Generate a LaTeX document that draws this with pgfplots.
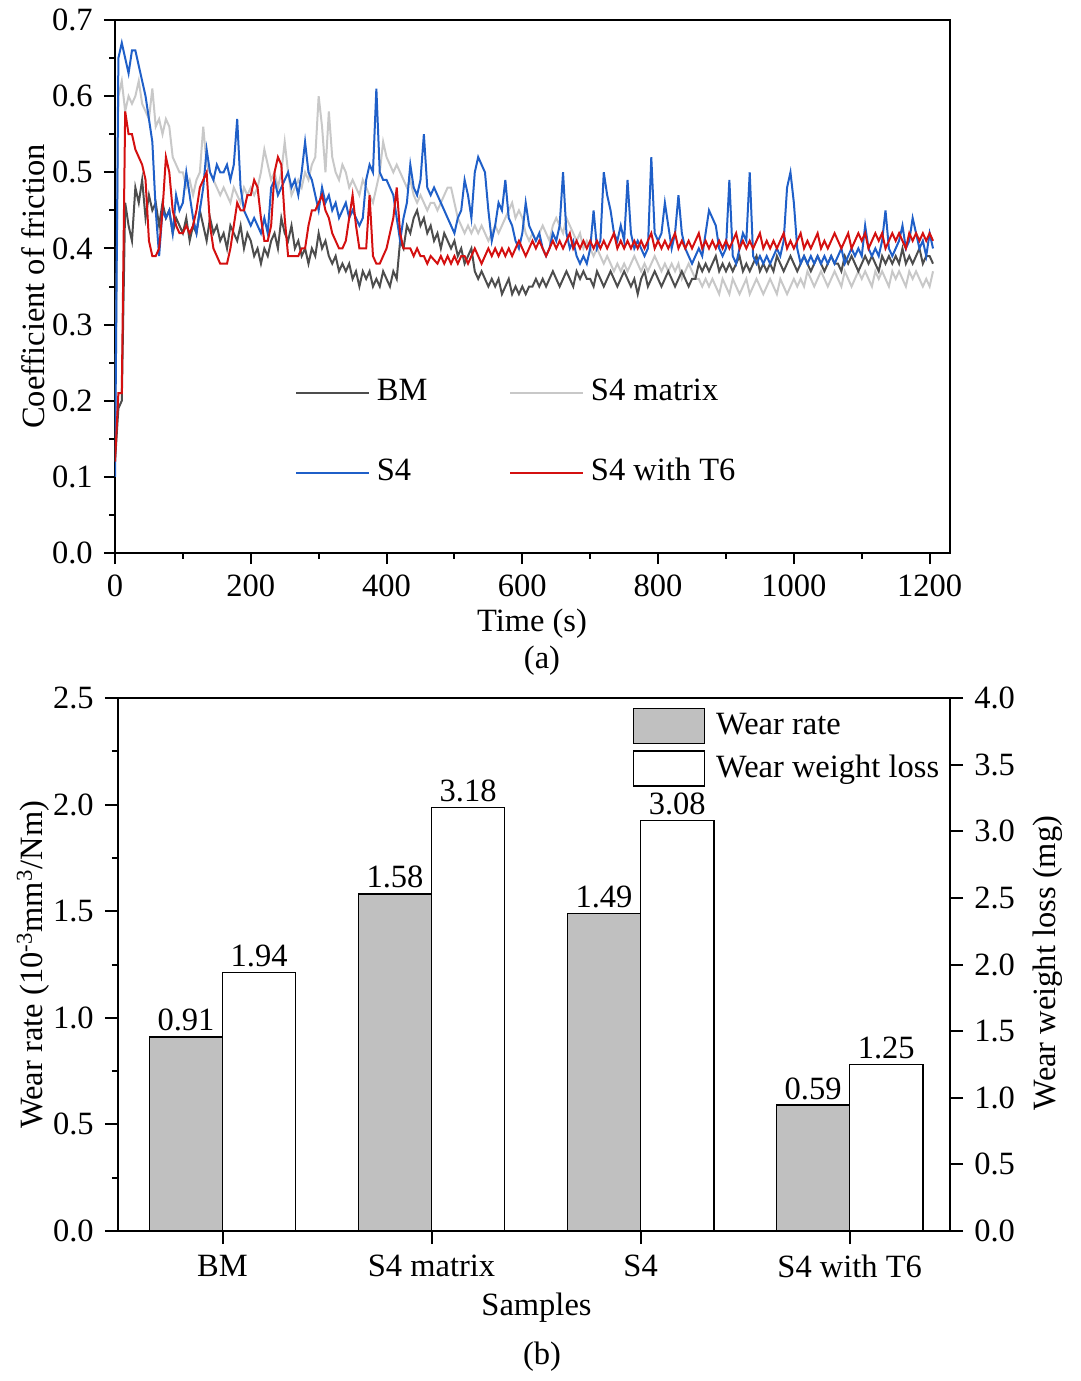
\documentclass[border=0pt]{standalone}
\usepackage{fontspec}
\setmainfont{Liberation Serif}
\usepackage{pgfplots}
\pgfplotsset{compat=1.18}
\definecolor{cbm}{HTML}{4D4D4D}
\definecolor{cmat}{HTML}{C8C8C8}
\definecolor{cs4}{HTML}{1F5FC8}
\definecolor{ct6}{HTML}{D41010}
\definecolor{cbar}{HTML}{C0C0C0}
\begin{document}
\fontsize{13}{15}\selectfont
\begin{tikzpicture}[font=\fontsize{13}{15}\selectfont]
\useasboundingbox (-46pt,-331.2pt) rectangle (386pt,221.2pt);
\pgfplotsset{every axis/.append style={
  /pgf/number format/assume math mode=true,
  scale only axis, anchor=south west,
  tick align=outside,
  axis line style={line width=0.8pt},
  every tick/.style={black, line width=0.8pt},
  tick label style={font=\fontsize{13}{15}\selectfont},
  label style={font=\fontsize{13}{15}\selectfont},
}}
% ---------------- (a) ----------------
\begin{axis}[
  at={(0pt,0pt)}, width=334pt, height=213.2pt,
  major tick length=4.4pt, minor tick length=2.2pt,
  xmin=0, xmax=1230, ymin=0, ymax=0.7,
  xtick={0,200,400,600,800,1000,1200}, minor x tick num=1,
  ytick={0,0.1,0.2,0.3,0.4,0.5,0.6,0.7}, minor y tick num=1,
  xtick pos=bottom, ytick pos=left,
  yticklabel style={/pgf/number format/.cd, fixed, fixed zerofill, precision=1},
  xticklabel style={/pgf/number format/.cd, fixed, 1000 sep={}},
  xlabel={Time (s)}, ylabel={Coefficient of friction},
  xlabel style={at={(axis description cs:0.4994,-0.133)}, anchor=center},
  ylabel style={at={(axis description cs:-0.0982,0.5)}, anchor=center},
  legend columns=2,
  legend cell align=left,
  legend style={draw=none, fill=none, at={(axis cs:265,0.158)}, anchor=west, inner sep=0pt,
    row sep=18pt, nodes={inner sep=1pt, text height=9pt, text depth=3pt},
    /tikz/every odd column/.append style={column sep=1.6pt},
    /tikz/every even column/.append style={column sep=31.8pt}},
  legend image code/.code={\draw[#1] (0pt,0pt) -- (29.2pt,0pt);},
]
\addplot[cmat, line width=0.8pt, forget plot] coordinates {
(0,.12)(5,.60)(10,.62)(15,.58)(20,.60)(25,.59)(30,.60)(35,.62)(40,.59)(45,.58)(50,.57)(55,.61)(60,.56)(65,.57)(70,.55)(75,.57)(80,.56)(85,.52)(90,.51)(95,.50)
(100,.50)(105,.48)(110,.49)(115,.47)(120,.49)(125,.50)(130,.56)(135,.51)(140,.50)(145,.49)(150,.48)(155,.47)(160,.48)(165,.47)(170,.46)(175,.48)(180,.47)(185,.46)(190,.48)(195,.47)
(200,.48)(205,.47)(210,.48)(215,.50)(220,.53)(225,.51)(230,.49)(235,.50)(240,.48)(245,.50)(250,.54)(255,.50)(260,.47)(265,.48)(270,.49)(275,.48)(280,.50)(285,.49)(290,.51)(295,.52)
(300,.60)(305,.56)(310,.50)(315,.58)(320,.52)(325,.50)(330,.49)(335,.51)(340,.50)(345,.48)(350,.49)(355,.48)(360,.47)(365,.49)(370,.48)(375,.47)(380,.46)(385,.48)(390,.50)(395,.54)
(400,.52)(405,.51)(410,.50)(415,.51)(420,.50)(425,.49)(430,.48)(435,.49)(440,.47)(445,.46)(450,.47)(455,.46)(460,.45)(465,.46)(470,.46)(475,.45)(480,.46)(485,.47)(490,.48)(495,.48)
(500,.46)(505,.44)(510,.43)(515,.42)(520,.43)(525,.42)(530,.43)(535,.42)(540,.43)(545,.42)(550,.41)(555,.42)(560,.43)(565,.42)(570,.43)(575,.44)(580,.45)(585,.46)(590,.44)(595,.45)
(600,.44)(605,.42)(610,.41)(615,.42)(620,.41)(625,.42)(630,.43)(635,.42)(640,.41)(645,.43)(650,.44)(655,.43)(660,.42)(665,.44)(670,.43)(675,.42)(680,.41)(685,.42)(690,.40)(695,.41)
(700,.40)(705,.39)(710,.40)(715,.39)(720,.38)(725,.39)(730,.38)(735,.37)(740,.38)(745,.37)(750,.38)(755,.37)(760,.38)(765,.39)(770,.38)(775,.37)(780,.38)(785,.37)(790,.38)(795,.39)
(800,.38)(805,.37)(810,.38)(815,.37)(820,.38)(825,.37)(830,.38)(835,.36)(840,.37)(845,.38)(850,.37)(855,.36)(860,.36)(865,.35)(870,.36)(875,.35)(880,.36)(885,.35)(890,.34)(895,.36)
(900,.35)(905,.34)(910,.36)(915,.35)(920,.34)(925,.35)(930,.36)(935,.34)(940,.35)(945,.36)(950,.35)(955,.34)(960,.35)(965,.36)(970,.35)(975,.34)(980,.36)(985,.35)(990,.34)(995,.35)
(1000,.36)(1005,.35)(1010,.36)(1015,.35)(1020,.37)(1025,.36)(1030,.35)(1035,.36)(1040,.37)(1045,.36)(1050,.35)(1055,.36)(1060,.37)(1065,.36)(1070,.35)(1075,.37)(1080,.36)(1085,.35)(1090,.36)(1095,.37)
(1100,.36)(1105,.37)(1110,.36)(1115,.35)(1120,.37)(1125,.36)(1130,.37)(1135,.36)(1140,.35)(1145,.37)(1150,.36)(1155,.37)(1160,.36)(1165,.35)(1170,.37)(1175,.36)(1180,.37)(1185,.36)(1190,.35)(1195,.36)
(1200,.35)(1205,.37)};
\addplot[cbm, line width=0.8pt, forget plot] coordinates {
(0,.12)(5,.19)(10,.20)(15,.46)(20,.43)(25,.41)(30,.48)(35,.46)(40,.49)(45,.44)(50,.47)(55,.45)(60,.46)(65,.43)(70,.46)(75,.44)(80,.45)(85,.42)(90,.44)(95,.43)
(100,.42)(105,.44)(110,.41)(115,.43)(120,.42)(125,.45)(130,.43)(135,.41)(140,.44)(145,.42)(150,.43)(155,.41)(160,.42)(165,.40)(170,.43)(175,.42)(180,.41)(185,.43)(190,.40)(195,.42)
(200,.41)(205,.39)(210,.40)(215,.38)(220,.40)(225,.39)(230,.41)(235,.42)(240,.40)(245,.44)(250,.42)(255,.41)(260,.43)(265,.40)(270,.41)(275,.39)(280,.40)(285,.38)(290,.40)(295,.39)
(300,.42)(305,.40)(310,.41)(315,.39)(320,.38)(325,.39)(330,.37)(335,.38)(340,.37)(345,.38)(350,.36)(355,.37)(360,.35)(365,.37)(370,.36)(375,.37)(380,.35)(385,.36)(390,.35)(395,.37)
(400,.36)(405,.35)(410,.37)(415,.36)(420,.41)(425,.40)(430,.43)(435,.42)(440,.44)(445,.45)(450,.43)(455,.44)(460,.42)(465,.43)(470,.41)(475,.42)(480,.40)(485,.42)(490,.41)(495,.40)
(500,.41)(505,.39)(510,.40)(515,.38)(520,.39)(525,.40)(530,.37)(535,.36)(540,.37)(545,.36)(550,.35)(555,.36)(560,.35)(565,.36)(570,.34)(575,.35)(580,.36)(585,.34)(590,.35)(595,.34)
(600,.35)(605,.34)(610,.35)(615,.35)(620,.36)(625,.35)(630,.36)(635,.35)(640,.36)(645,.37)(650,.36)(655,.35)(660,.36)(665,.37)(670,.36)(675,.35)(680,.37)(685,.36)(690,.37)(695,.36)
(700,.36)(705,.35)(710,.37)(715,.36)(720,.35)(725,.36)(730,.37)(735,.36)(740,.35)(745,.36)(750,.37)(755,.36)(760,.35)(765,.36)(770,.34)(775,.36)(780,.37)(785,.35)(790,.36)(795,.37)
(800,.36)(805,.35)(810,.36)(815,.37)(820,.36)(825,.35)(830,.36)(835,.37)(840,.36)(845,.35)(850,.36)(855,.36)(860,.38)(865,.37)(870,.38)(875,.37)(880,.38)(885,.39)(890,.37)(895,.38)
(900,.37)(905,.38)(910,.37)(915,.38)(920,.39)(925,.37)(930,.38)(935,.37)(940,.38)(945,.39)(950,.37)(955,.38)(960,.37)(965,.38)(970,.37)(975,.39)(980,.38)(985,.37)(990,.38)(995,.39)
(1000,.38)(1005,.37)(1010,.38)(1015,.39)(1020,.38)(1025,.37)(1030,.38)(1035,.39)(1040,.38)(1045,.37)(1050,.38)(1055,.39)(1060,.38)(1065,.38)(1070,.37)(1075,.39)(1080,.38)(1085,.39)(1090,.38)(1095,.37)
(1100,.38)(1105,.39)(1110,.38)(1115,.39)(1120,.38)(1125,.37)(1130,.39)(1135,.38)(1140,.39)(1145,.38)(1150,.39)(1155,.38)(1160,.40)(1165,.38)(1170,.39)(1175,.38)(1180,.39)(1185,.40)(1190,.38)(1195,.39)
(1200,.39)(1205,.38)};
\addplot[cs4, line width=0.8pt, forget plot] coordinates {
(0,.10)(5,.65)(10,.67)(15,.65)(20,.63)(25,.66)(30,.66)(35,.64)(40,.62)(45,.60)(50,.57)(55,.54)(60,.45)(65,.39)(70,.45)(75,.44)(80,.45)(85,.42)(90,.47)(95,.45)
(100,.46)(105,.50)(110,.47)(115,.44)(120,.42)(125,.45)(130,.48)(135,.53)(140,.50)(145,.49)(150,.51)(155,.50)(160,.50)(165,.51)(170,.49)(175,.51)(180,.57)(185,.48)(190,.45)(195,.44)
(200,.43)(205,.44)(210,.43)(215,.42)(220,.44)(225,.42)(230,.48)(235,.49)(240,.47)(245,.48)(250,.49)(255,.50)(260,.48)(265,.49)(270,.47)(275,.50)(280,.54)(285,.50)(290,.49)(295,.47)
(300,.45)(305,.48)(310,.46)(315,.47)(320,.45)(325,.46)(330,.44)(335,.45)(340,.46)(345,.44)(350,.45)(355,.44)(360,.43)(365,.44)(370,.49)(375,.51)(380,.50)(385,.61)(390,.50)(395,.49)
(400,.49)(405,.48)(410,.47)(415,.44)(420,.41)(425,.44)(430,.46)(435,.51)(440,.48)(445,.47)(450,.49)(455,.55)(460,.48)(465,.47)(470,.48)(475,.47)(480,.46)(485,.45)(490,.44)(495,.43)
(500,.42)(505,.44)(510,.45)(515,.49)(520,.47)(525,.44)(530,.50)(535,.52)(540,.51)(545,.50)(550,.45)(555,.41)(560,.43)(565,.46)(570,.45)(575,.49)(580,.44)(585,.43)(590,.41)(595,.40)
(600,.42)(605,.46)(610,.43)(615,.42)(620,.41)(625,.42)(630,.40)(635,.39)(640,.40)(645,.42)(650,.41)(655,.43)(660,.50)(665,.42)(670,.40)(675,.41)(680,.39)(685,.38)(690,.39)(695,.38)
(700,.40)(705,.45)(710,.40)(715,.41)(720,.50)(725,.47)(730,.45)(735,.42)(740,.41)(745,.43)(750,.41)(755,.49)(760,.42)(765,.40)(770,.41)(775,.40)(780,.39)(785,.40)(790,.52)(795,.42)
(800,.41)(805,.42)(810,.46)(815,.43)(820,.40)(825,.42)(830,.47)(835,.42)(840,.40)(845,.39)(850,.38)(855,.39)(860,.40)(865,.39)(870,.42)(875,.45)(880,.44)(885,.43)(890,.40)(895,.39)
(900,.40)(905,.49)(910,.39)(915,.38)(920,.40)(925,.42)(930,.41)(935,.50)(940,.39)(945,.38)(950,.39)(955,.38)(960,.39)(965,.38)(970,.39)(975,.40)(980,.39)(985,.41)(990,.48)(995,.50)
(1000,.46)(1005,.40)(1010,.38)(1015,.39)(1020,.38)(1025,.39)(1030,.38)(1035,.39)(1040,.38)(1045,.39)(1050,.38)(1055,.39)(1060,.38)(1065,.39)(1070,.40)(1075,.38)(1080,.39)(1085,.40)(1090,.39)(1095,.40)
(1100,.39)(1105,.43)(1110,.40)(1115,.39)(1120,.40)(1125,.39)(1130,.41)(1135,.45)(1140,.40)(1145,.39)(1150,.40)(1155,.41)(1160,.43)(1165,.40)(1170,.41)(1175,.44)(1180,.42)(1185,.40)(1190,.41)(1195,.39)
(1200,.42)(1205,.40)};
\addplot[ct6, line width=0.8pt, forget plot] coordinates {
(0,.12)(5,.21)(10,.21)(15,.58)(20,.55)(25,.55)(30,.53)(35,.52)(40,.51)(45,.49)(50,.41)(55,.39)(60,.39)(65,.40)(70,.45)(75,.52)(80,.50)(85,.45)(90,.43)(95,.42)
(100,.42)(105,.43)(110,.42)(115,.43)(120,.45)(125,.48)(130,.49)(135,.50)(140,.43)(145,.40)(150,.39)(155,.38)(160,.38)(165,.38)(170,.40)(175,.43)(180,.46)(185,.45)(190,.45)(195,.47)
(200,.47)(205,.49)(210,.48)(215,.44)(220,.41)(225,.41)(230,.43)(235,.50)(240,.52)(245,.51)(250,.44)(255,.39)(260,.39)(265,.39)(270,.39)(275,.40)(280,.40)(285,.43)(290,.45)(295,.45)
(300,.46)(305,.47)(310,.45)(315,.44)(320,.42)(325,.41)(330,.40)(335,.40)(340,.41)(345,.44)(350,.47)(355,.43)(360,.40)(365,.40)(370,.40)(375,.47)(380,.39)(385,.38)(390,.38)(395,.39)
(400,.40)(405,.42)(410,.44)(415,.48)(420,.42)(425,.40)(430,.40)(435,.40)(440,.39)(445,.40)(450,.39)(455,.39)(460,.38)(465,.39)(470,.385)(475,.38)(480,.39)(485,.38)(490,.39)(495,.38)
(500,.39)(505,.38)(510,.39)(515,.39)(520,.38)(525,.39)(530,.40)(535,.39)(540,.38)(545,.39)(550,.40)(555,.39)(560,.40)(565,.39)(570,.40)(575,.39)(580,.40)(585,.39)(590,.40)(595,.41)
(600,.40)(605,.39)(610,.40)(615,.41)(620,.40)(625,.41)(630,.40)(635,.39)(640,.40)(645,.41)(650,.40)(655,.41)(660,.40)(665,.41)(670,.42)(675,.40)(680,.41)(685,.40)(690,.41)(695,.40)
(700,.41)(705,.40)(710,.41)(715,.40)(720,.41)(725,.40)(730,.41)(735,.42)(740,.40)(745,.41)(750,.40)(755,.41)(760,.40)(765,.41)(770,.40)(775,.41)(780,.40)(785,.41)(790,.42)(795,.40)
(800,.41)(805,.40)(810,.41)(815,.40)(820,.41)(825,.42)(830,.40)(835,.41)(840,.40)(845,.41)(850,.40)(855,.41)(860,.42)(865,.40)(870,.41)(875,.40)(880,.41)(885,.40)(890,.41)(895,.40)
(900,.41)(905,.40)(910,.41)(915,.42)(920,.40)(925,.41)(930,.40)(935,.41)(940,.40)(945,.41)(950,.42)(955,.40)(960,.41)(965,.40)(970,.41)(975,.40)(980,.41)(985,.42)(990,.40)(995,.41)
(1000,.40)(1005,.41)(1010,.42)(1015,.40)(1020,.41)(1025,.40)(1030,.41)(1035,.42)(1040,.40)(1045,.41)(1050,.40)(1055,.41)(1060,.42)(1065,.41)(1070,.40)(1075,.41)(1080,.42)(1085,.40)(1090,.41)(1095,.42)
(1100,.41)(1105,.42)(1110,.40)(1115,.41)(1120,.42)(1125,.41)(1130,.42)(1135,.40)(1140,.41)(1145,.42)(1150,.41)(1155,.42)(1160,.41)(1165,.40)(1170,.42)(1175,.41)(1180,.42)(1185,.41)(1190,.42)(1195,.41)
(1200,.42)(1205,.41)};
\addlegendimage{cbm, line width=0.8pt}
\addlegendimage{cmat, line width=0.8pt}
\addlegendimage{cs4, line width=0.8pt}
\addlegendimage{ct6, line width=0.8pt}
\legend{BM, S4 matrix, S4, S4 with T6}
\end{axis}
% ---------------- (b) ----------------
% right axis (wear weight loss) first, so that the left axis' labels lie on top
\begin{axis}[
  at={(1.2pt,-271.2pt)}, width=332.8pt, height=213.2pt,
  major tick length=5.2pt,
  xmin=-0.5, xmax=3.48, ymin=0, ymax=4,
  axis x line=none, axis y line*=right, tick align=outside,
  ytick={0,0.5,1,1.5,2,2.5,3,3.5,4},
  yticklabel style={/pgf/number format/.cd, fixed, fixed zerofill, precision=1},
  ylabel={Wear weight loss (mg)},
  ylabel style={at={(axis description cs:1.118,0.503)}, anchor=center},
  legend cell align=left,
  legend style={draw=none, fill=none, at={(rel axis cs:0.618,0.983)}, anchor=north west, inner sep=0pt,
    row sep=2.4pt, nodes={inner sep=1pt},
    /tikz/every odd column/.append style={column sep=3.4pt}},
  legend image code/.code={\draw[#1] (0pt,-7pt) rectangle (28.4pt,7pt);},
]
\addplot[ybar, bar width=0.35, bar shift=0.175, fill=white, draw=black, line width=0.6pt,
  point meta=y, forget plot,
  nodes near coords={\pgfmathprintnumber[fixed,fixed zerofill,precision=2]{\pgfplotspointmeta}},
  nodes near coords style={font=\fontsize{13}{15}\selectfont, black, inner sep=2pt, xshift=14.63pt}]
  coordinates {(0,1.94)(1,3.18)(2,3.08)(3,1.25)};
\addlegendimage{fill=cbar, draw=black, line width=0.6pt}
\addlegendimage{fill=white, draw=black, line width=0.6pt}
\legend{Wear rate, Wear weight loss}
\end{axis}
\begin{axis}[
  at={(1.2pt,-271.2pt)}, width=332.8pt, height=213.2pt,
  major tick length=5.2pt, minor tick length=2.4pt,
  xmin=-0.5, xmax=3.48, ymin=0, ymax=2.5,
  xtick={0,1,2,3}, xticklabels={BM, S4 matrix, S4, S4 with T6},
  ytick={0,0.5,1,1.5,2,2.5}, minor y tick num=1,
  xtick pos=bottom, ytick pos=left,
  yticklabel style={/pgf/number format/.cd, fixed, fixed zerofill, precision=1},
  xlabel={Samples}, ylabel={Wear rate (10\textsuperscript{-3}mm\textsuperscript{3}/Nm)},
  xlabel style={at={(axis description cs:0.503,-0.144)}, anchor=center},
  ylabel style={at={(axis description cs:-0.102,0.5)}, anchor=center},
]
\addplot[ybar, bar width=0.35, bar shift=-0.175, fill=cbar, draw=black, line width=0.6pt,
  point meta=y,
  nodes near coords={\pgfmathprintnumber[fixed,fixed zerofill,precision=2]{\pgfplotspointmeta}},
  nodes near coords style={font=\fontsize{13}{15}\selectfont, black, inner sep=2pt, xshift=-14.63pt}]
  coordinates {(0,0.91)(1,1.58)(2,1.49)(3,0.59)};
\end{axis}
\node at (170.8pt,-43.2pt) {(a)};
\node at (170.8pt,-321.6pt) {(b)};
\end{tikzpicture}
\end{document}
